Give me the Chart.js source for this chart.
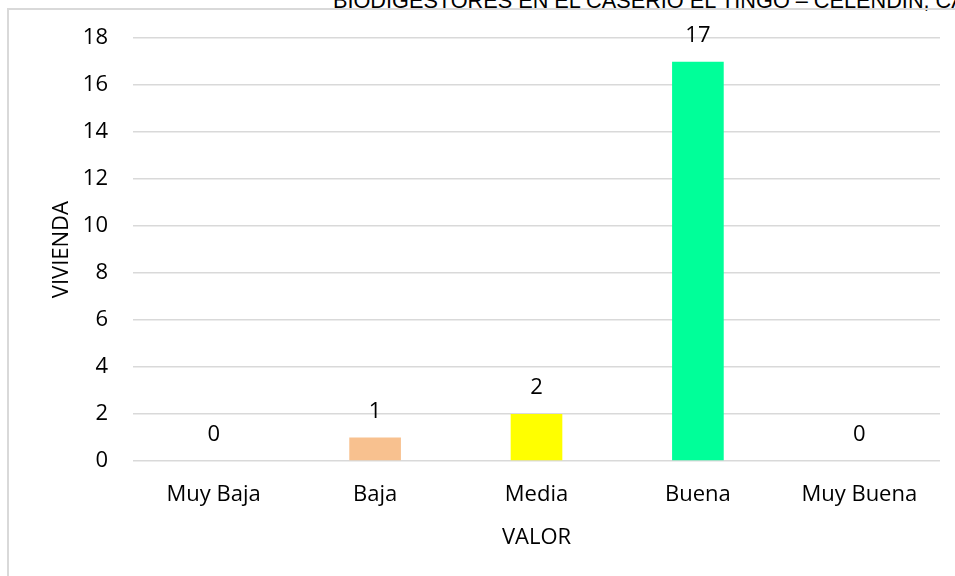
<!DOCTYPE html>
<html>
<head>
<meta charset="utf-8">
<script src="https://cdn.jsdelivr.net/npm/chart.js@4"></script>
<style>
  html, body { margin: 0; padding: 0; background: #fff; overflow: hidden; }
  #wrap { position: relative; width: 955px; height: 576px; overflow: hidden; }
  #frame { position: absolute; left: 7px; top: 8px; width: 960px; height: 580px;
           border-left: 2px solid #d9d9d9; border-top: 2px solid #d9d9d9; }
  #title { position: absolute; left: 333px; top: -12px; white-space: nowrap;
           font-family: "Liberation Sans", Arial, sans-serif; font-size: 21.7px; color: #000; }
  canvas { position: absolute; left: 0; top: 0; }
</style>
</head>
<body>
<div id="wrap">
  <div id="title">BIODIGESTORES EN EL CASERIO EL TINGO – CELENDIN, CAJAMARCA</div>
  <div id="frame"></div>
  <canvas id="grafico" width="955" height="576"></canvas>
</div>
<script>
// Datos
const categorias = ['Muy Baja', 'Baja', 'Media', 'Buena', 'Muy Buena'];
const viviendas = [0, 1, 2, 17, 0];
const colores = ['#4472C4', '#F8C18F', '#FFFF00', '#00FF99', '#4472C4'];

const fuente = '"Open Sans", "DejaVu Sans", sans-serif';
const tam = 22;

// etiquetas de valor encima de cada barra
const etiquetas = {
    id: 'etiquetas',
    afterDatasetsDraw(chart) {
        const ctx = chart.ctx;
        const meta = chart.getDatasetMeta(0);
        ctx.save();
        ctx.font = tam + 'px ' + fuente;
        ctx.fillStyle = '#000';
        ctx.textAlign = 'center';
        ctx.textBaseline = 'middle';
        meta.data.forEach((bar, i) => {
            ctx.fillText(String(viviendas[i]), bar.x, bar.y - 26);
        });
        ctx.restore();
    }
};

const ctx = document.getElementById('grafico').getContext('2d');
new Chart(ctx, {
    type: 'bar',
    data: {
        labels: categorias,
        datasets: [{
            label: 'VIVIENDA',
            data: viviendas,
            backgroundColor: colores,
            categoryPercentage: 1,
            barPercentage: 0.32
        }]
    },
    options: {
        responsive: false,
        animation: false,
        layout: { padding: { top: 38, right: 15, left: 0, bottom: 0 } },
        scales: {
            x: {
                grid: { display: false, drawTicks: false },
                border: { display: false },
                ticks: { color: '#000', font: { family: fuente, size: tam }, padding: 21 },
                title: { display: true, text: 'VALOR', color: '#000',
                         font: { family: fuente, size: tam }, padding: { top: 0, bottom: 25 } },
                afterFit(scale) { scale.height = 115; }
            },
            y: {
                min: 0,
                max: 18,
                ticks: { stepSize: 2, color: '#000', font: { family: fuente, size: tam }, padding: 25 },
                grid: { color: '#d9d9d9', lineWidth: 1.5, drawTicks: false },
                border: { display: false },
                title: { display: true, text: 'VIVIENDA', color: '#000',
                         font: { family: fuente, size: tam }, padding: { top: 49, bottom: 0 } },
                afterFit(scale) { scale.width = 133; }
            }
        },
        plugins: {
            legend: { display: false },
            tooltip: { enabled: false }
        }
    },
    plugins: [etiquetas]
});
</script>
</body>
</html>
